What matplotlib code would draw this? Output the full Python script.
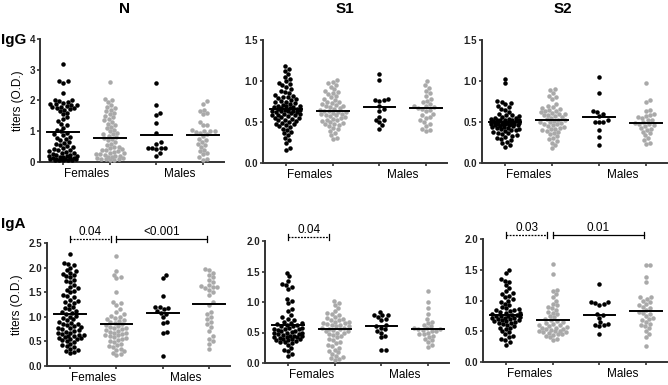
import numpy as np
import matplotlib
matplotlib.use('Agg')
import matplotlib.pyplot as plt
from matplotlib.ticker import FormatStrFormatter

# groups in each panel: Females (black), Females (gray), Males (black), Males (gray)
sex_labels = ['Females', 'Males']
col_titles = ['N', 'S1', 'S2']
row_titles = ['IgG', 'IgA']

# ---- IgG ----
igg_n_fb = [3.2, 2.65, 2.62, 2.58, 2.25, 2.02, 2.0, 1.98, 1.96, 1.93, 1.9, 1.88, 1.86, 1.84, 1.82,
            1.8, 1.78, 1.76, 1.74, 1.72, 1.7, 1.65, 1.6, 1.55, 1.45, 1.4, 1.32, 1.25, 1.2, 1.12,
            1.05, 1.0, 0.95, 0.9, 0.88, 0.82, 0.78, 0.75, 0.7, 0.65, 0.62, 0.58, 0.55, 0.52, 0.48,
            0.45, 0.42, 0.4, 0.38, 0.35, 0.33, 0.3, 0.28, 0.26, 0.24, 0.22, 0.2, 0.19, 0.18, 0.16,
            0.15, 0.14, 0.13, 0.12, 0.11, 0.1, 0.1, 0.09, 0.09, 0.08, 0.08, 0.07, 0.07, 0.07]
igg_n_fg = [2.6, 2.05, 2.02, 1.95, 1.85, 1.8, 1.75, 1.7, 1.65, 1.6, 1.55, 1.5, 1.45, 1.4, 1.35, 1.3,
            1.25, 1.2, 1.15, 1.1, 1.05, 1.0, 0.95, 0.92, 0.9, 0.85, 0.8, 0.78, 0.75, 0.7, 0.65, 0.6,
            0.55, 0.5, 0.48, 0.45, 0.42, 0.4, 0.38, 0.35, 0.32, 0.3, 0.28, 0.27, 0.25, 0.22, 0.2,
            0.18, 0.17, 0.15, 0.14, 0.12, 0.11, 0.1, 0.09, 0.08, 0.07]
igg_n_mb = [2.57, 1.85, 1.58, 1.52, 1.27, 0.95, 0.65, 0.6, 0.47, 0.45, 0.45, 0.45, 0.42, 0.3, 0.2]
igg_n_mg = [1.97, 1.9, 1.7, 1.65, 1.6, 1.55, 1.3, 1.2, 1.2, 1.05, 1.0, 1.0, 1.0, 0.98, 0.95, 0.9,
            0.85, 0.75, 0.72, 0.65, 0.6, 0.55, 0.5, 0.4, 0.35, 0.3, 0.25, 0.15, 0.1, 0.07]

igg_s1_fb = [1.18, 1.15, 1.12, 1.08, 1.05, 1.03, 1.0, 0.98, 0.96, 0.95, 0.93, 0.9, 0.88, 0.86, 0.85,
             0.83, 0.82, 0.81, 0.8, 0.79, 0.78, 0.77, 0.76, 0.75, 0.74, 0.73, 0.72, 0.71, 0.7, 0.7,
             0.69, 0.68, 0.68, 0.67, 0.67, 0.66, 0.66, 0.65, 0.65, 0.64, 0.64, 0.63, 0.63, 0.62, 0.62,
             0.61, 0.6, 0.6, 0.59, 0.58, 0.58, 0.57, 0.56, 0.55, 0.55, 0.54, 0.53, 0.52, 0.51, 0.5,
             0.49, 0.48, 0.47, 0.46, 0.45, 0.44, 0.42, 0.4, 0.38, 0.36, 0.34, 0.3, 0.28, 0.24, 0.18, 0.16]
igg_s1_fg = [1.01, 0.99, 0.97, 0.95, 0.93, 0.9, 0.88, 0.87, 0.85, 0.84, 0.82, 0.8, 0.78, 0.77, 0.75,
             0.74, 0.73, 0.72, 0.71, 0.7, 0.69, 0.68, 0.67, 0.66, 0.65, 0.64, 0.63, 0.62, 0.62, 0.61,
             0.6, 0.6, 0.59, 0.58, 0.57, 0.56, 0.55, 0.54, 0.53, 0.52, 0.51, 0.5, 0.49, 0.48, 0.47,
             0.46, 0.45, 0.43, 0.41, 0.39, 0.37, 0.34, 0.31, 0.29]
igg_s1_mb = [1.09, 1.01, 0.78, 0.77, 0.77, 0.76, 0.7, 0.66, 0.64, 0.56, 0.53, 0.52, 0.5, 0.46, 0.42]
igg_s1_mg = [1.0, 0.95, 0.92, 0.88, 0.85, 0.82, 0.78, 0.76, 0.74, 0.72, 0.7, 0.7, 0.68, 0.67, 0.66,
             0.65, 0.63, 0.6, 0.58, 0.56, 0.55, 0.52, 0.5, 0.48, 0.45, 0.42, 0.4, 0.39]

igg_s2_fb = [1.03, 0.97, 0.76, 0.75, 0.73, 0.72, 0.7, 0.68, 0.66, 0.65, 0.62, 0.6, 0.59, 0.58, 0.57,
             0.56, 0.55, 0.55, 0.54, 0.54, 0.53, 0.53, 0.52, 0.52, 0.52, 0.51, 0.51, 0.51, 0.5, 0.5,
             0.5, 0.5, 0.49, 0.49, 0.49, 0.48, 0.48, 0.48, 0.47, 0.47, 0.47, 0.46, 0.46, 0.46, 0.45,
             0.45, 0.44, 0.44, 0.43, 0.43, 0.42, 0.41, 0.4, 0.4, 0.39, 0.38, 0.37, 0.36, 0.35, 0.34,
             0.33, 0.32, 0.3, 0.29, 0.28, 0.26, 0.24, 0.22, 0.2]
igg_s2_fg = [0.9, 0.89, 0.85, 0.82, 0.8, 0.78, 0.72, 0.7, 0.68, 0.67, 0.66, 0.65, 0.64, 0.63, 0.62,
             0.61, 0.6, 0.6, 0.59, 0.58, 0.57, 0.56, 0.55, 0.54, 0.53, 0.52, 0.51, 0.5, 0.5, 0.49,
             0.48, 0.47, 0.46, 0.45, 0.44, 0.43, 0.42, 0.41, 0.4, 0.39, 0.38, 0.37, 0.35, 0.33, 0.31,
             0.29, 0.27, 0.25, 0.22, 0.18]
igg_s2_mb = [1.05, 0.85, 0.64, 0.62, 0.6, 0.57, 0.52, 0.5, 0.5, 0.5, 0.4, 0.32, 0.22]
igg_s2_mg = [0.97, 0.77, 0.75, 0.65, 0.63, 0.6, 0.58, 0.57, 0.56, 0.55, 0.53, 0.52, 0.5, 0.49, 0.48,
             0.47, 0.46, 0.45, 0.43, 0.42, 0.4, 0.38, 0.36, 0.34, 0.3, 0.28, 0.25, 0.23]

# ---- IgA ----
iga_n_fb = [2.27, 2.1, 2.08, 2.05, 2.0, 1.95, 1.93, 1.9, 1.88, 1.85, 1.82, 1.8, 1.75, 1.72, 1.7, 1.65,
            1.6, 1.58, 1.55, 1.52, 1.5, 1.45, 1.42, 1.4, 1.35, 1.32, 1.3, 1.28, 1.25, 1.2, 1.18, 1.15,
            1.12, 1.1, 1.08, 1.05, 1.02, 1.0, 0.98, 0.95, 0.93, 0.9, 0.88, 0.86, 0.85, 0.83, 0.82,
            0.8, 0.78, 0.77, 0.75, 0.73, 0.72, 0.7, 0.68, 0.67, 0.65, 0.63, 0.62, 0.6, 0.6, 0.58,
            0.57, 0.56, 0.55, 0.54, 0.52, 0.5, 0.48, 0.45, 0.42, 0.4, 0.38, 0.35, 0.32, 0.3, 0.28, 0.26]
iga_n_fg = [2.23, 1.93, 1.85, 1.8, 1.78, 1.5, 1.3, 1.28, 1.25, 1.15, 1.1, 1.05, 1.02, 1.0, 0.98, 0.95,
            0.93, 0.92, 0.9, 0.88, 0.85, 0.83, 0.82, 0.8, 0.78, 0.77, 0.75, 0.73, 0.72, 0.7, 0.68,
            0.67, 0.65, 0.63, 0.62, 0.6, 0.58, 0.56, 0.55, 0.53, 0.5, 0.48, 0.45, 0.42, 0.4, 0.38,
            0.35, 0.32, 0.3, 0.27, 0.25, 0.23]
iga_n_mb = [1.85, 1.78, 1.43, 1.2, 1.2, 1.18, 1.15, 1.12, 1.08, 1.05, 1.0, 0.9, 0.88, 0.7, 0.68, 0.2]
iga_n_mg = [1.98, 1.95, 1.9, 1.85, 1.8, 1.75, 1.7, 1.65, 1.62, 1.6, 1.6, 1.58, 1.55, 1.5, 1.45, 1.3,
            1.25, 1.1, 1.05, 1.0, 0.95, 0.9, 0.85, 0.8, 0.72, 0.6, 0.55, 0.5, 0.45, 0.35]

iga_s1_fb = [1.48, 1.42, 1.35, 1.3, 1.28, 1.25, 1.22, 1.05, 1.02, 0.98, 0.88, 0.85, 0.78, 0.75, 0.72,
             0.7, 0.68, 0.66, 0.65, 0.64, 0.63, 0.62, 0.6, 0.6, 0.58, 0.57, 0.56, 0.55, 0.55, 0.54,
             0.53, 0.52, 0.51, 0.5, 0.5, 0.49, 0.48, 0.47, 0.46, 0.45, 0.45, 0.44, 0.43, 0.42, 0.42,
             0.41, 0.4, 0.4, 0.39, 0.38, 0.37, 0.36, 0.35, 0.34, 0.33, 0.3, 0.25, 0.22, 0.2, 0.15, 0.12]
iga_s1_fg = [1.02, 0.98, 0.95, 0.9, 0.85, 0.82, 0.8, 0.78, 0.75, 0.73, 0.72, 0.7, 0.7, 0.68, 0.67,
             0.66, 0.65, 0.64, 0.63, 0.62, 0.6, 0.6, 0.58, 0.57, 0.56, 0.55, 0.54, 0.53, 0.52, 0.5,
             0.5, 0.48, 0.46, 0.44, 0.42, 0.4, 0.38, 0.35, 0.32, 0.3, 0.28, 0.25, 0.22, 0.2, 0.18,
             0.15, 0.12, 0.1, 0.08, 0.06, 0.05]
iga_s1_mb = [0.84, 0.78, 0.78, 0.78, 0.75, 0.72, 0.7, 0.62, 0.6, 0.58, 0.55, 0.52, 0.5, 0.45, 0.42,
             0.22, 0.22]
iga_s1_mg = [1.18, 1.0, 0.9, 0.8, 0.72, 0.68, 0.65, 0.62, 0.6, 0.58, 0.57, 0.56, 0.55, 0.54, 0.53,
             0.52, 0.5, 0.48, 0.47, 0.45, 0.43, 0.4, 0.38, 0.35, 0.3, 0.26]

iga_s2_fb = [1.5, 1.45, 1.35, 1.32, 1.3, 1.25, 1.2, 1.15, 1.12, 1.1, 1.08, 1.05, 1.02, 1.0, 0.98, 0.95,
             0.93, 0.9, 0.88, 0.86, 0.85, 0.84, 0.83, 0.82, 0.8, 0.8, 0.78, 0.77, 0.76, 0.75, 0.75,
             0.74, 0.73, 0.72, 0.72, 0.71, 0.7, 0.7, 0.69, 0.68, 0.67, 0.66, 0.65, 0.64, 0.63, 0.62,
             0.6, 0.58, 0.56, 0.55, 0.53, 0.5, 0.48, 0.45, 0.42, 0.4, 0.38, 0.35, 0.32, 0.28]
iga_s2_fg = [1.6, 1.43, 1.17, 1.15, 1.1, 1.05, 1.0, 0.95, 0.92, 0.9, 0.88, 0.85, 0.82, 0.8, 0.78,
             0.75, 0.73, 0.7, 0.68, 0.66, 0.65, 0.63, 0.62, 0.6, 0.6, 0.58, 0.57, 0.56, 0.55, 0.54,
             0.53, 0.52, 0.51, 0.5, 0.5, 0.49, 0.48, 0.47, 0.46, 0.45, 0.44, 0.42, 0.4, 0.38, 0.35]
iga_s2_mb = [1.27, 0.98, 0.97, 0.96, 0.94, 0.93, 0.78, 0.76, 0.72, 0.65, 0.62, 0.6, 0.6, 0.58, 0.45]
iga_s2_mg = [1.58, 1.58, 1.38, 1.3, 1.05, 1.05, 1.03, 1.0, 0.98, 0.95, 0.92, 0.9, 0.88, 0.85, 0.82,
             0.8, 0.78, 0.75, 0.72, 0.7, 0.68, 0.65, 0.62, 0.6, 0.58, 0.55, 0.5, 0.45, 0.4, 0.26]

# group means (horizontal lines)
mean_igg_n = [0.97, 0.78, 0.88, 0.87]
mean_igg_s1 = [0.66, 0.64, 0.68, 0.67]
mean_igg_s2 = [0.50, 0.53, 0.56, 0.49]
mean_iga_n = [1.05, 0.86, 1.07, 1.27]
mean_iga_s1 = [0.63, 0.55, 0.60, 0.56]
mean_iga_s2 = [0.76, 0.68, 0.77, 0.83]

# p-value brackets: (from group, to group, label, dashed)
p_iga_n = [(1, 2, '0.04', True), (2, 4, '<0.001', False)]
p_iga_s1 = [(1, 2, '0.04', True)]
p_iga_s2 = [(1, 2, '0.03', True), (2, 4, '0.01', False)]

W, H = 668, 385
fig = plt.figure(figsize=(W / 100, H / 100), dpi=100)
plt.rcParams['font.family'] = ['Liberation Sans', 'DejaVu Sans']

colors = ['black', '#a9a9a9', 'black', '#a9a9a9']
spine_col = '#333333'
D = 4.4      # dot diameter in pixels
MAXW = 14.0  # max half width of a swarm in pixels
XL = (0.5, 4.45)


def swarm(y_px, d, maxw):
    # simple beeswarm, capped in width (points overlap where it gets crowded)
    xs = np.zeros(len(y_px))
    placed = []
    grid = np.linspace(-maxw, maxw, 17)
    for i in np.argsort(y_px):
        y = y_px[i]
        near = [(px, py) for px, py in placed if abs(py - y) < d]
        cands = [0.0]
        for px, py in near:
            dx = np.sqrt(d * d - (py - y) ** 2)
            cands += [px + dx, px - dx]
        cands.sort(key=abs)
        chosen = None
        for c in cands:
            if abs(c) > maxw:
                break
            if all((c - px) ** 2 + (y - py) ** 2 >= d * d - 1e-6 for px, py in near):
                chosen = c
                break
        if chosen is None:
            dist = [min((g - px) ** 2 + (y - py) ** 2 for px, py in near) for g in grid]
            chosen = grid[int(np.argmax(dist))]
        xs[i] = chosen
        placed.append((chosen, y))
    return xs


def panel(box, groups, means, ymax, fmt, brackets=(), ylabel=False):
    l, t, r, b = box
    ax = fig.add_axes([l / W, 1 - b / H, (r - l) / W, (b - t) / H])
    ax.set_xlim(*XL)
    ax.set_ylim(0, ymax)
    ypx = (b - t) / ymax
    xu = (XL[1] - XL[0]) / (r - l)
    for k, vals in enumerate(groups):
        v = np.array(vals)
        off = swarm(v * ypx, D, MAXW) * xu
        ax.scatter(k + 1 + off, v, s=10.5, color=colors[k], lw=0, zorder=3, clip_on=False)
        ax.plot([k + 1 - 0.34, k + 1 + 0.34], [means[k]] * 2, color='black', lw=1.4, zorder=4)

    for s in ['top', 'right']:
        ax.spines[s].set_visible(False)
    for s in ['left', 'bottom']:
        ax.spines[s].set_color(spine_col)
        ax.spines[s].set_linewidth(1.4)
    ax.set_yticks(np.arange(0, ymax + 0.01, 1.0 if ymax > 3 else 0.5))
    ax.yaxis.set_major_formatter(FormatStrFormatter(fmt))
    ax.set_xticks([1, 2, 3, 4])
    ax.set_xticklabels([])
    ax.set_xticks([1.5, 3.5], minor=True)
    ax.set_xticklabels(sex_labels, minor=True, fontsize=8.5)
    ax.tick_params(axis='x', which='minor', length=0, pad=4)
    ax.tick_params(axis='both', which='major', length=2.5, width=1.2, color=spine_col)
    ax.tick_params(axis='y', which='major', pad=1)
    for lab in ax.get_yticklabels():
        lab.set_fontsize(7)
        lab.set_fontweight('bold')
        lab.set_color('#222222')
    if ylabel:
        ax.set_ylabel('titers (O.D.)', fontsize=8.5, labelpad=4)

    yb = ymax * 1.03
    cap = ymax * 0.025
    for g0, g1, txt, dashed in brackets:
        x1 = g1 - 0.12 if dashed else g1 - 0.05
        ax.plot([g0, x1], [yb, yb], color='black', lw=0.9, ls=(0, (1.5, 1)) if dashed else '-',
                clip_on=False)
        for xx in (g0, x1):
            ax.plot([xx, xx], [yb - cap, yb + cap], color='black', lw=0.9, clip_on=False)
        ax.text((g0 + x1) / 2, yb + ymax * 0.01, txt, ha='center', va='bottom', fontsize=8.5)
    return ax


panel((40, 39, 224, 162), [igg_n_fb, igg_n_fg, igg_n_mb, igg_n_mg], mean_igg_n, 4, '%d', ylabel=True)
panel((263, 40, 447, 163), [igg_s1_fb, igg_s1_fg, igg_s1_mb, igg_s1_mg], mean_igg_s1, 1.5, '%.1f')
panel((482, 40, 667, 163), [igg_s2_fb, igg_s2_fg, igg_s2_mb, igg_s2_mg], mean_igg_s2, 1.5, '%.1f')
panel((47, 243, 230, 366), [iga_n_fb, iga_n_fg, iga_n_mb, iga_n_mg], mean_iga_n, 2.5, '%.1f',
      p_iga_n, ylabel=True)
panel((265, 241, 449, 363), [iga_s1_fb, iga_s1_fg, iga_s1_mb, iga_s1_mg], mean_iga_s1, 2.0, '%.1f',
      p_iga_s1)
panel((483, 239, 667, 362), [iga_s2_fb, iga_s2_fg, iga_s2_mb, iga_s2_mg], mean_iga_s2, 2.0, '%.1f',
      p_iga_s2)

# column and row titles
for x, t in zip([124, 345, 563], col_titles):
    fig.text(x / W, 1 - 9 / H, t, ha='center', va='center', fontsize=11, fontweight='bold')
for y, t in zip([40, 224], row_titles):
    fig.text(0.5 / W, 1 - y / H, t, ha='left', va='center', fontsize=11, fontweight='bold')

fig.savefig('out.png', dpi=100)
